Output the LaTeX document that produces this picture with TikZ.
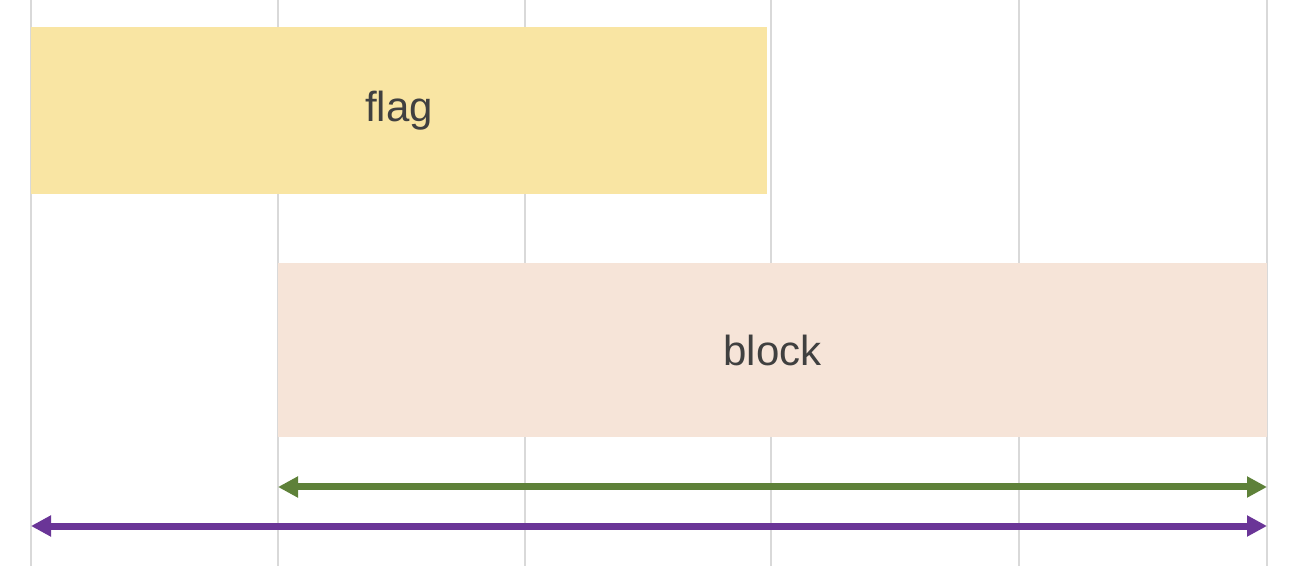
\documentclass[tikz,border=0pt]{standalone}
\usepackage{fontspec}
\setmainfont{Liberation Sans}
\usetikzlibrary{arrows.meta}
\definecolor{gridc}{HTML}{D9D9D9}
\definecolor{flagc}{HTML}{F9E5A3}
\definecolor{blockc}{HTML}{F6E4D8}
\definecolor{txtc}{HTML}{404040}
\definecolor{greenc}{HTML}{5E8139}
\definecolor{purplec}{HTML}{6A3597}
\tikzset{
  gridline/.style={draw=gridc, line width=1pt},
  boxstyle/.style={rectangle, inner sep=0pt, outer sep=0pt, text=txtc, font=\fontsize{21}{25}\selectfont},
  flagbox/.style={boxstyle, fill=flagc, minimum width=368pt, minimum height=83.5pt},
  blockbox/.style={boxstyle, fill=blockc, minimum width=494.5pt, minimum height=87pt},
  dimarrow/.style={line width=3.5pt, {Triangle[length=10pt,width=10pt]}-{Triangle[length=10pt,width=10pt]}, shorten <=0pt, shorten >=0pt},
}
\begin{document}
\begin{tikzpicture}[x=0.5pt, y=-0.5pt]
\useasboundingbox (0,0) rectangle (1312,566);
\foreach \gx in {31,278,525,771,1019,1267}{
  \draw[gridline] (\gx,0) -- (\gx,566);
}
\node[flagbox] (flag) at (399,110.5) {flag};
\node[blockbox] (block) at (772.5,350) {block};
\coordinate (gL) at (278,487);
\coordinate (gR) at (1267,487);
\coordinate (pL) at (31,526);
\coordinate (pR) at (1267,526);
\draw[dimarrow, greenc] (gL) -- (gR);
\draw[dimarrow, purplec] (pL) -- (pR);
\end{tikzpicture}
\end{document}
